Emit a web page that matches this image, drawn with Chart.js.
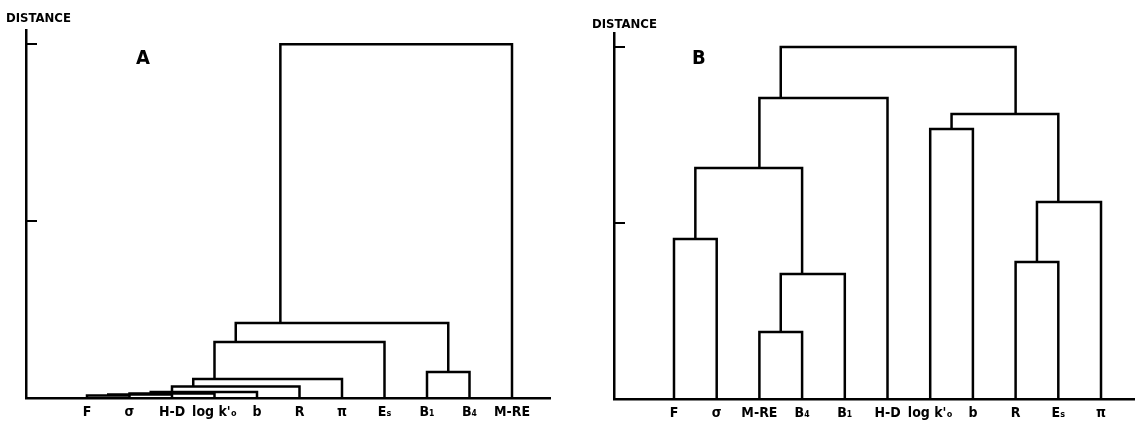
<!DOCTYPE html>
<html>
<head>
<meta charset="utf-8">
<script src="https://cdn.jsdelivr.net/npm/chart.js@4.4.0/dist/chart.umd.min.js"></script>
<style>
body { margin: 0; background: #fff; }
#wrap { position: relative; width: 1135px; height: 423px; overflow: hidden; }
canvas { position: absolute; top: 0; }
.txt { position: absolute; font-family: "DejaVu Sans Condensed", "DejaVu Sans", sans-serif; font-weight: bold; color: #000; line-height: 1; white-space: nowrap; }
</style>
</head>
<body>
<div id="wrap">
  <canvas id="chartA" width="560" height="423" style="left:0"></canvas>
  <canvas id="chartB" width="575" height="423" style="left:560px"></canvas>
  <div class="txt" style="left:6px;top:11px;font-size:13px">DISTANCE</div>
  <div class="txt" style="left:592px;top:17px;font-size:13px">DISTANCE</div>
  <div class="txt" style="left:136px;top:47px;font-size:20px">A</div>
  <div class="txt" style="left:692px;top:47px;font-size:20px">B</div>
</div>
<script>
// folhas (ordem no eixo x)
var folhasA = ['F', 'σ', 'H-D', "log k'ₒ", 'b', 'R', 'π', 'Eₛ', 'B₁', 'B₄', 'M-RE'];
var folhasB = ['F', 'σ', 'M-RE', 'B₄', 'B₁', 'H-D', "log k'ₒ", 'b', 'R', 'Eₛ', 'π'];

// fusoes: ids < 11 sao folhas, id 11+k e a fusao k
var paresA = [[0, 1], [11, 2], [12, 3], [13, 4], [14, 5], [15, 6], [16, 7], [8, 9], [17, 18], [19, 10]];
var alturasA = [0.014, 0.02, 0.025, 0.034, 0.065, 0.107, 0.316, 0.147, 0.424, 2.0];
var posA = [0.5, 1, 1.5, 2, 2.5, 3, 3.5, 8.5, 4.55, 7.5];

var paresB = [[0, 1], [2, 3], [12, 4], [11, 13], [14, 5], [6, 7], [8, 9], [17, 10], [16, 18], [15, 19]];
var alturasB = [0.909, 0.381, 0.710, 1.3125, 1.710, 1.534, 0.778, 1.119, 1.619, 2.0];
var posB = [0.5, 2.5, 3, 2, 2.5, 6.5, 8.5, 9, 8, 5];

var ticksY = [1, 2];

var fonte = '"DejaVu Sans Condensed", "DejaVu Sans", sans-serif';

function montarLinks(folhas, pares, alturas, pos) {
    var n = folhas.length;
    function xDe(id) { return id < n ? id : pos[id - n]; }
    function yDe(id) { return id < n ? 0 : alturas[id - n]; }
    var ds = [];
    for (var k = 0; k < pares.length; k++) {
        var a = pares[k][0], b = pares[k][1], h = alturas[k];
        ds.push({
            data: [
                { x: xDe(a), y: yDe(a) },
                { x: xDe(a), y: h },
                { x: xDe(b), y: h },
                { x: xDe(b), y: yDe(b) }
            ],
            borderColor: '#000',
            borderWidth: 2.5,
            pointRadius: 0,
            fill: false,
            tension: 0
        });
    }
    return ds;
}

// marcas do eixo y para dentro
function marcasInternas(valores) {
    return {
        id: 'marcasInternas',
        afterDraw: function(chart) {
            var c = chart.ctx, y = chart.scales.y, left = chart.chartArea.left;
            c.save();
            c.strokeStyle = '#000';
            c.lineWidth = 2;
            valores.forEach(function(v) {
                var py = Math.round(y.getPixelForValue(v));
                c.beginPath();
                c.moveTo(left, py);
                c.lineTo(left + 11, py);
                c.stroke();
            });
            c.restore();
        }
    };
}

function plotarDendro(id, folhas, pares, alturas, pos, xMin, xMax, pad, altX) {
    var ctx = document.getElementById(id).getContext('2d');
    return new Chart(ctx, {
        type: 'line',
        data: { datasets: montarLinks(folhas, pares, alturas, pos) },
        options: {
            responsive: false,
            animation: false,
            layout: { padding: pad },
            plugins: { legend: { display: false }, tooltip: { enabled: false } },
            scales: {
                x: {
                    type: 'linear',
                    min: xMin,
                    max: xMax,
                    afterBuildTicks: function(s) {
                        s.ticks = folhas.map(function(_, i) { return { value: i }; });
                    },
                    afterFit: function(s) { s.height = altX; },
                    ticks: {
                        callback: function(v) { return folhas[v]; },
                        autoSkip: false,
                        maxRotation: 0,
                        padding: 6,
                        color: '#000',
                        font: { family: fonte, weight: 'bold', size: 14 }
                    },
                    grid: { display: false, drawTicks: false },
                    border: { display: true, color: '#000', width: 2.5 }
                },
                y: {
                    min: 0,
                    max: 2.08,
                    ticks: { display: false },
                    grid: { display: false, drawTicks: false },
                    border: { display: true, color: '#000', width: 2.5 },
                    afterFit: function(s) { s.width = 0; }
                }
            }
        },
        plugins: [marcasInternas(ticksY)]
    });
}

plotarDendro('chartA', folhasA, paresA, alturasA, posA, -1.435, 10.894,
    { left: 26, right: 10, top: 30, bottom: 0 }, 25);
plotarDendro('chartB', folhasB, paresB, alturasB, posB, -1.405, 10.796,
    { left: 54, right: 0, top: 33, bottom: 0 }, 24);
</script>
</body>
</html>
